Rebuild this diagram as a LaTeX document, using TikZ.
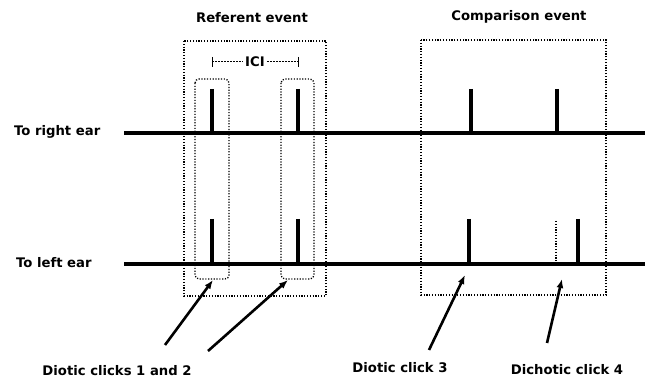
\documentclass[tikz,border=0pt]{standalone}
\usepackage{fontspec}
\setmainfont{DejaVu Sans}
\usetikzlibrary{arrows.meta}
\tikzset{
  lbl/.style={font=\bfseries\fontsize{13.2}{15}\selectfont, inner sep=0pt},
  earline/.style={line width=4pt},
  click/.style={line width=3.5pt},
  dotbox/.style={line width=1.3pt, dash pattern=on 1.2pt off 1.6pt},
  ptr/.style={line width=2.6pt, -{Latex[length=9pt,width=7pt]}},
}
\begin{document}
\begin{tikzpicture}[x=1pt,y=-1pt]
\useasboundingbox (0,0) rectangle (651,382);
% labels
\node[lbl] (refev) at (252,18) {Referent event};
\node[lbl] (compev) at (519,17) {Comparison event};
\node[lbl, anchor=west] (rlab) at (14,132) {To right ear};
\node[lbl, anchor=west] (llab) at (16,263) {To left ear};
\node[lbl] (d12) at (117,371) {Diotic clicks 1 and 2};
\node[lbl] (d3) at (400,368) {Diotic click 3};
\node[lbl] (d4) at (567,370) {Dichotic click 4};
% ear lines
\coordinate (rs) at (124,133); \coordinate (re) at (645,133);
\coordinate (ls) at (124,264); \coordinate (le) at (645,264);
\draw[earline] (rs) -- (re);
\draw[earline] (ls) -- (le);
% clicks right ear
\foreach \n/\x in {r1/212, r2/298, r3/471, r4/557} {
  \coordinate (\n t) at (\x,89); \coordinate (\n b) at (\x,133);
  \draw[click] (\n t) -- (\n b);
}
% clicks left ear
\foreach \n/\x in {l1/212, l2/298, l3/469, l4/578} {
  \coordinate (\n t) at (\x,219); \coordinate (\n b) at (\x,264);
  \draw[click] (\n t) -- (\n b);
}
% missing diotic marker
\coordinate (gt) at (556,221); \coordinate (gb) at (556,264);
\draw[dotbox] (gt) -- (gb);
% boxes
\draw[dotbox] (184,41) rectangle (326,296);
\draw[dotbox, rounded corners=4pt] (195,79) rectangle (229,279);
\draw[dotbox, rounded corners=4pt] (281,79) rectangle (314,279);
\draw[dotbox] (421,40) rectangle (606,295);
% ICI
\coordinate (ia) at (212,62); \coordinate (ib) at (298,62);
\node[lbl, fill=white, inner xsep=2pt] (ici) at (255,62) {ICI};
\draw[line width=1pt, dash pattern=on 2pt off 1pt] (ia) -- (ici.west);
\draw[line width=1pt, dash pattern=on 2pt off 1pt] (ici.east) -- (ib);
\draw[line width=1pt] (212,57) -- (212,67) (298,57) -- (298,67);
% arrows
\coordinate (a1s) at (165,345); \coordinate (a1e) at (213,280);
\coordinate (a2s) at (208,351); \coordinate (a2e) at (288,280);
\coordinate (a3s) at (429,350); \coordinate (a3e) at (465,275);
\coordinate (a4s) at (547,343); \coordinate (a4e) at (562,279);
\draw[ptr] (a1s) -- (a1e);
\draw[ptr] (a2s) -- (a2e);
\draw[ptr] (a3s) -- (a3e);
\draw[ptr] (a4s) -- (a4e);
\end{tikzpicture}
\end{document}
